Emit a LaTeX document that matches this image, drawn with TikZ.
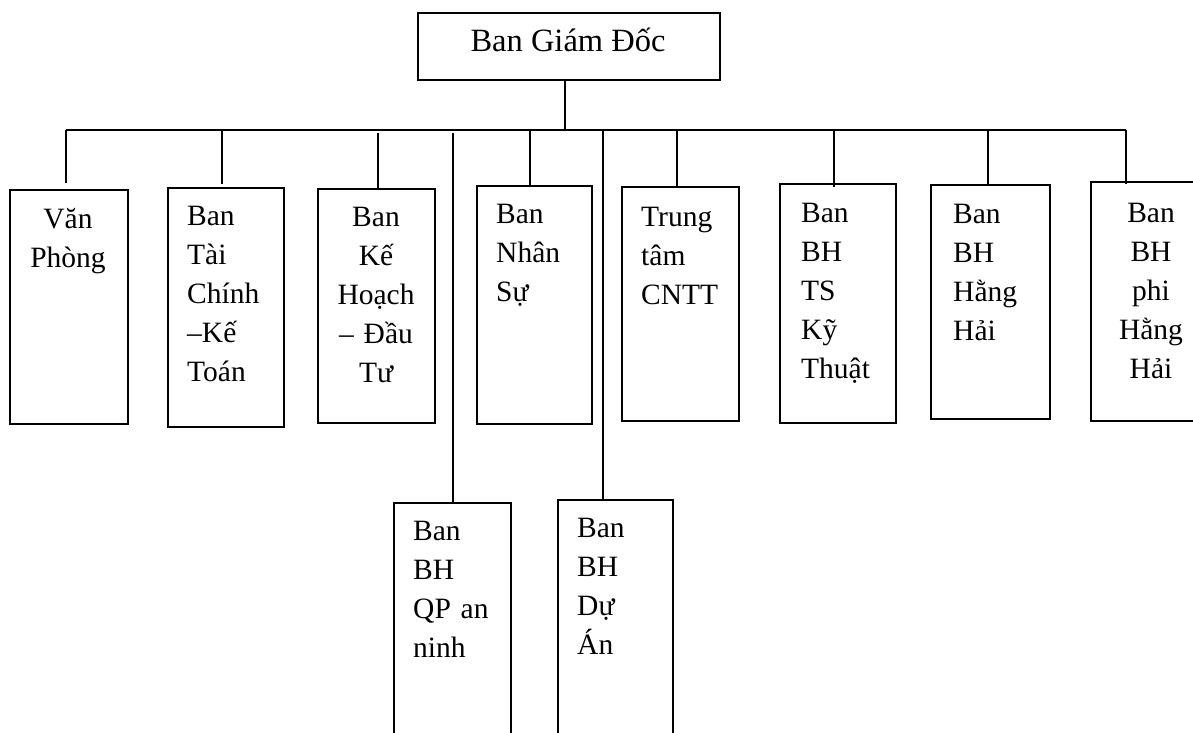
\documentclass[tikz,border=0pt]{standalone}
\usepackage{fontspec}
\setmainfont{Liberation Serif}
\begin{document}
\begin{tikzpicture}[x=1pt,y=-1pt,
  box/.style={draw,line width=1.6pt,inner sep=0pt,anchor=north west},
  conn/.style={line width=1.5pt},
  lbl/.style={inner sep=0pt,font=\fontsize{29.5}{39}\selectfont,text width=100pt,align=left,anchor=base west},
  clbl/.style={inner sep=0pt,font=\fontsize{29.5}{39}\selectfont,text width=110pt,align=center,anchor=base},
  toplbl/.style={inner sep=0pt,font=\fontsize{32.5}{39}\selectfont,anchor=base}
]
\useasboundingbox (0,0) rectangle (1193,732);
\clip (0,0) rectangle (1193,732);
\fill[white] (0,0) rectangle (1193,732);

% top box
\node[box,minimum width=302pt,minimum height=67pt] (top) at (417,12) {};
\node[toplbl] (toptxt) at (568,51) {Ban Giám Đốc};

% department boxes
\node[box,minimum width=118pt,minimum height=234pt] (vp) at (9,189) {};
\node[box,minimum width=116pt,minimum height=239pt] (tc) at (167,187) {};
\node[box,minimum width=117pt,minimum height=234pt] (kh) at (317,188) {};
\node[box,minimum width=115pt,minimum height=238pt] (ns) at (476,185) {};
\node[box,minimum width=117pt,minimum height=234pt] (cntt) at (621,186) {};
\node[box,minimum width=116pt,minimum height=239pt] (ts) at (779,183) {};
\node[box,minimum width=119pt,minimum height=234pt] (hh) at (930,184) {};
\node[box,minimum width=120pt,minimum height=239pt] (phh) at (1090,181) {};
\node[box,minimum width=117pt,minimum height=250pt] (qp) at (393,502) {};
\node[box,minimum width=115pt,minimum height=250pt] (da) at (557,499) {};

% labels
\node[clbl] (vpt) at (68,228) {Văn\\Phòng};
\node[lbl] (tct) at (187,225) {Ban\\Tài\\Chính\\–Kế\\Toán};
\node[clbl] (kht) at (376,226) {Ban\\Kế\\Hoạch\\– Đầu\\Tư};
\node[lbl] (nst) at (496,223) {Ban\\Nhân\\Sự};
\node[lbl] (cnttt) at (641,226) {Trung\\tâm\\CNTT};
\node[lbl] (tst) at (801,222) {Ban\\BH\\TS\\Kỹ\\Thuật};
\node[lbl] (hht) at (953,223) {Ban\\BH\\Hằng\\Hải};
\node[clbl] (phht) at (1151,222) {Ban\\BH\\phi\\Hằng\\Hải};
\node[lbl] (qpt) at (413,540) {Ban\\BH\\QP an\\ninh};
\node[lbl] (dat) at (577,537) {Ban\\BH\\Dự\\Án};

% connectors
\coordinate (d1) at (66,130);
\coordinate (d2) at (222,130);
\coordinate (d3) at (378,133);
\coordinate (d4) at (453,133);
\coordinate (d5) at (530,130);
\coordinate (d6) at (603,130);
\coordinate (d7) at (677,130);
\coordinate (d8) at (834,130);
\coordinate (d9) at (988,130);
\coordinate (d10) at (1126,130);

\draw[conn] ([xshift=-4pt]top.south) -- ([xshift=-4pt]top.south |- d1);
\draw[conn] (d1) -- (d10);
\draw[conn] (d1) -- ([yshift=6pt]d1 |- vp.north);
\draw[conn] (d2) -- ([yshift=3pt]d2 |- tc.north);
\draw[conn] (d3) -- (d3 |- kh.north);
\draw[conn] (d4) -- (d4 |- qp.north);
\draw[conn] (d5) -- (d5 |- ns.north);
\draw[conn] (d6) -- (d6 |- da.north);
\draw[conn] (d7) -- (d7 |- cntt.north);
\draw[conn] (d8) -- ([yshift=-4pt]d8 |- ts.north);
\draw[conn] (d9) -- ([yshift=-2pt]d9 |- hh.north);
\draw[conn] (d10) -- ([yshift=-3pt]d10 |- phh.north);
\end{tikzpicture}
\end{document}
